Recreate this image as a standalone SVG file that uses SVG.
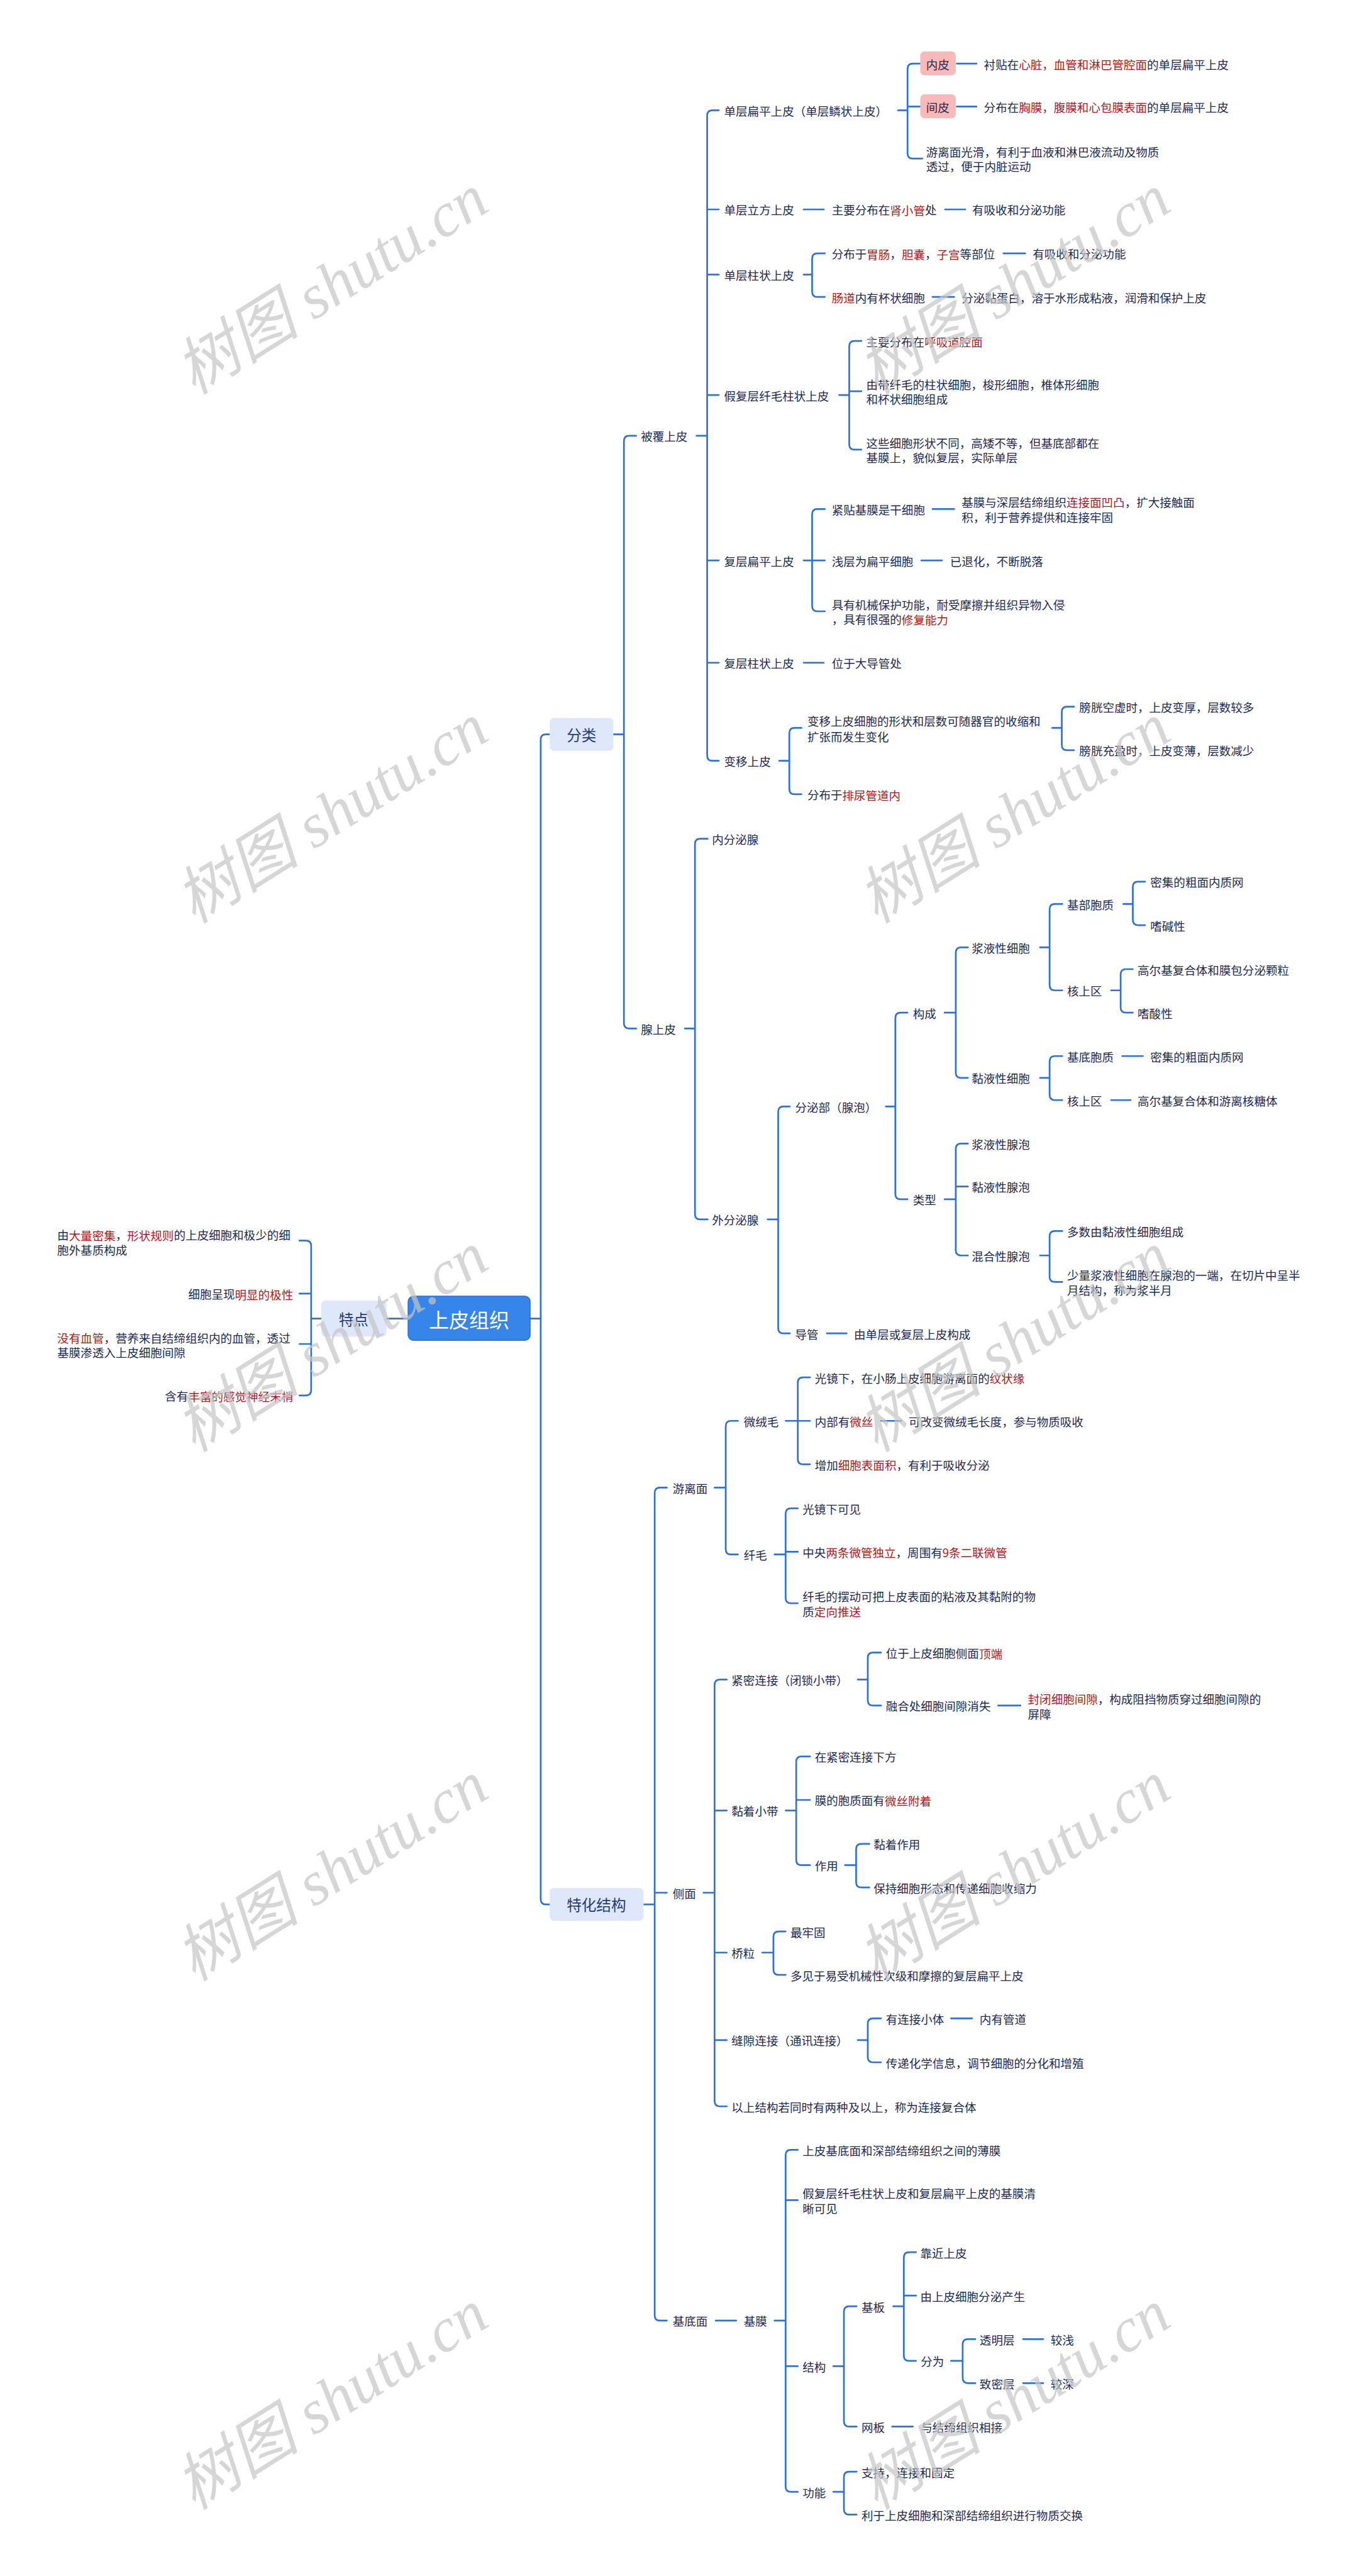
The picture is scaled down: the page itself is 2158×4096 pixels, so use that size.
<svg xmlns="http://www.w3.org/2000/svg" width="2158" height="4096" viewBox="0 0 2158 4096">
<style>
text{font-family:"Noto Sans CJK SC","Noto Sans",sans-serif;dominant-baseline:central}
.t{font-size:22px;fill:#1d2951}
.r{fill:#a9191e}
.c{fill:none;stroke:#2f72d6;stroke-width:3.2;stroke-linecap:round;stroke-linejoin:round}
.bx{fill:#dfe8fb}
.pk{fill:#f8b9b9}
.lb{font-size:28px;fill:#1f3b7a;text-anchor:middle}
.wm{font-family:"Liberation Serif","Noto Sans CJK SC",serif;font-style:italic;font-size:118px;fill:#c4c4c4;fill-opacity:.7}
</style>
<rect width="2158" height="4096" fill="#ffffff"/>
<g transform="scale(0.843)">
<g id="connectors" class="c">
<path d="M1037 1385H1030Q1020 1385 1020 1395V3582Q1020 3592 1030 3592H1037M1000 2487H1020M770 2487H729M606 2487H587"/>
<path d="M565 2340H577Q587 2340 587 2350V2622Q587 2632 577 2632H565M587 2440H565M587 2535H565"/>
<path d="M1157 1385H1177M1200 822H1187Q1177 822 1177 832V1930Q1177 1940 1187 1940H1200"/>
<path d="M1314 822H1334M1356 208H1344Q1334 208 1334 218V1425Q1334 1435 1344 1435H1356M1334 395H1356M1334 518H1356M1334 745H1356M1334 1057H1356M1334 1250H1356"/>
<path d="M1694 208H1712M1736 120H1722Q1712 120 1712 130V289Q1712 299 1722 299H1740M1712 201H1736M1805 120H1842M1805 201H1842"/>
<path d="M1516 395H1554M1783 395H1821"/>
<path d="M1516 518H1532M1556 478H1542Q1532 478 1532 488V550Q1532 560 1542 560H1556M1893 478H1934M1759 560H1800"/>
<path d="M1583 745H1602M1625 643H1612Q1602 643 1602 653V838Q1602 848 1612 848H1625M1602 738H1625"/>
<path d="M1516 1057H1532M1556 960H1542Q1532 960 1532 970V1143Q1532 1153 1542 1153H1556M1532 1057H1556M1759 960H1800M1738 1057H1777"/>
<path d="M1516 1250H1554"/>
<path d="M1470 1435H1489M1512 1373H1499Q1489 1373 1489 1383V1488Q1489 1498 1499 1498H1512M1985 1373H2003M2026 1333H2013Q2003 1333 2003 1343V1405Q2003 1415 2013 1415H2026"/>
<path d="M1292 1940H1311M1335 1582H1321Q1311 1582 1311 1592V2290Q1311 2300 1321 2300H1335"/>
<path d="M1448 2300H1468M1490 2087H1478Q1468 2087 1468 2097V2505Q1468 2515 1478 2515H1490"/>
<path d="M1671 2087H1689M1712 1910H1699Q1689 1910 1689 1920V2252Q1689 2262 1699 2262H1712"/>
<path d="M1782 1910H1803M1826 1787H1813Q1803 1787 1803 1797V2023Q1803 2033 1813 2033H1826"/>
<path d="M1962 1787H1980M2004 1705H1990Q1980 1705 1980 1715V1858Q1980 1868 1990 1868H2004"/>
<path d="M2119 1705H2137M2160 1663H2147Q2137 1663 2137 1673V1735Q2137 1745 2147 1745H2160"/>
<path d="M2096 1868H2114M2137 1828H2124Q2114 1828 2114 1838V1900Q2114 1910 2124 1910H2137"/>
<path d="M1962 2033H1980M2004 1992H1990Q1980 1992 1980 2002V2065Q1980 2075 1990 2075H2004M2117 1992H2156M2096 2075H2133"/>
<path d="M1782 2262H1803M1826 2157H1813Q1803 2157 1803 2167V2358Q1803 2368 1813 2368H1826M1803 2238H1826"/>
<path d="M1962 2368H1980M2004 2322H1990Q1980 2322 1980 2332V2408Q1980 2418 1990 2418H2004"/>
<path d="M1560 2515H1597"/>
<path d="M1214 3592H1235M1258 2806H1245Q1235 2806 1235 2816V4367Q1235 4377 1245 4377H1258M1235 3570H1258"/>
<path d="M1348 2806H1369M1392 2680H1379Q1369 2680 1369 2690V2922Q1369 2932 1379 2932H1392"/>
<path d="M1482 2680H1505M1528 2598H1515Q1505 2598 1505 2608V2752Q1505 2762 1515 2762H1528M1505 2680H1528M1662 2680H1700"/>
<path d="M1461 2932H1482M1505 2845H1492Q1482 2845 1482 2855V3014Q1482 3024 1492 3024H1505M1482 2927H1505"/>
<path d="M1327 3570H1348M1371 3168H1358Q1348 3168 1348 3178V3963Q1348 3973 1358 3973H1371M1348 3415H1371M1348 3683H1371M1348 3848H1371"/>
<path d="M1618 3168H1637M1662 3117H1647Q1637 3117 1637 3127V3207Q1637 3217 1647 3217H1662M1883 3217H1925"/>
<path d="M1482 3415H1502M1528 3313H1512Q1502 3313 1502 3323V3508Q1502 3518 1512 3518H1528M1502 3395H1528"/>
<path d="M1594 3518H1615M1640 3478H1625Q1615 3478 1615 3488V3550Q1615 3560 1625 3560H1640"/>
<path d="M1438 3683H1459M1482 3643H1469Q1459 3643 1459 3653V3715Q1459 3725 1469 3725H1482"/>
<path d="M1618 3848H1637M1662 3807H1647Q1637 3807 1637 3817V3880Q1637 3890 1647 3890H1662M1794 3807H1834"/>
<path d="M1350 4377H1389M1461 4377H1482M1505 4055H1492Q1482 4055 1482 4065V4690Q1482 4700 1492 4700H1505M1482 4150H1505M1482 4463H1505"/>
<path d="M1572 4463H1592M1616 4350H1602Q1592 4350 1592 4360V4567Q1592 4577 1602 4577H1616"/>
<path d="M1685 4350H1705M1728 4248H1715Q1705 4248 1705 4258V4443Q1705 4453 1715 4453H1728M1705 4330H1728"/>
<path d="M1794 4453H1816M1840 4412H1826Q1816 4412 1816 4422V4485Q1816 4495 1826 4495H1840M1930 4412H1968M1930 4495H1968"/>
<path d="M1683 4577H1722"/>
<path d="M1572 4700H1592M1616 4662H1602Q1592 4662 1592 4672V4733Q1592 4743 1602 4743H1616"/>
</g>

<g id="root"><rect x="770" y="2445" width="230" height="83" rx="10" fill="#3585ea" stroke="#2a72d8" stroke-width="2"/><text x="885" y="2487" font-size="38" fill="#ffffff" text-anchor="middle">上皮组织</text></g>
<g id="n-tedian"><rect class="bx" x="606" y="2453" width="123" height="68" rx="8"/><text class="lb" x="667" y="2487">特点</text></g>
<g id="n-fenlei"><rect class="bx" x="1037" y="1354" width="120" height="62" rx="8"/><text class="lb" x="1097" y="1385">分类</text></g>
<g id="n-tehua"><rect class="bx" x="1037" y="3561" width="177" height="62" rx="8"/><text class="lb" x="1125" y="3592">特化结构</text></g>

<g id="n-td1"><text class="t" x="108" y="2328">由<tspan class="r">大量密集</tspan>，<tspan class="r">形状规则</tspan>的上皮细胞和极少的细</text><text class="t" x="108" y="2357">胞外基质构成</text></g>
<g id="n-td2"><text class="t" x="553" y="2440" text-anchor="end">细胞呈现<tspan class="r">明显的极性</tspan></text></g>
<g id="n-td3"><text class="t" x="108" y="2522"><tspan class="r">没有血管</tspan>，营养来自结缔组织内的血管，透过</text><text class="t" x="108" y="2550">基膜渗透入上皮细胞间隙</text></g>
<g id="n-td4"><text class="t" x="553" y="2632" text-anchor="end">含有<tspan class="r">丰富的感觉神经末梢</tspan></text></g>

<g id="n-bfsp"><text class="t" x="1209" y="822">被覆上皮</text></g>
<g id="n-dcbp"><text class="t" x="1366" y="208">单层扁平上皮（单层鳞状上皮）</text></g>
<g id="n-neipi"><rect class="pk" x="1736" y="97" width="67" height="45" rx="8"/><text class="t" x="1747" y="120">内皮</text></g>
<g id="n-neipi-d"><text class="t" x="1856" y="120">衬贴在<tspan class="r">心脏，血管和淋巴管腔面</tspan>的单层扁平上皮</text></g>
<g id="n-jianpi"><rect class="pk" x="1736" y="178" width="67" height="45" rx="8"/><text class="t" x="1747" y="201">间皮</text></g>
<g id="n-jianpi-d"><text class="t" x="1856" y="201">分布在<tspan class="r">胸膜，腹膜和心包膜表面</tspan>的单层扁平上皮</text></g>
<g id="n-dcbp3"><text class="t" x="1747" y="285">游离面光滑，有利于血液和淋巴液流动及物质</text><text class="t" x="1747" y="313">透过，便于内脏运动</text></g>
<g id="n-dclf"><text class="t" x="1366" y="395">单层立方上皮</text></g>
<g id="n-dclf1"><text class="t" x="1569" y="395">主要分布在<tspan class="r">肾小管</tspan>处</text></g>
<g id="n-dclf2"><text class="t" x="1834" y="395">有吸收和分泌功能</text></g>
<g id="n-dczz"><text class="t" x="1366" y="518">单层柱状上皮</text></g>
<g id="n-dczz1"><text class="t" x="1569" y="478">分布于<tspan class="r">胃肠</tspan>，<tspan class="r">胆囊</tspan>，<tspan class="r">子宫</tspan>等部位</text></g>
<g id="n-dczz1a"><text class="t" x="1948" y="478">有吸收和分泌功能</text></g>
<g id="n-dczz2"><text class="t" x="1569" y="560"><tspan class="r">肠道</tspan>内有杯状细胞</text></g>
<g id="n-dczz2a"><text class="t" x="1814" y="560">分泌黏蛋白，溶于水形成粘液，润滑和保护上皮</text></g>
<g id="n-jfc"><text class="t" x="1366" y="745">假复层纤毛柱状上皮</text></g>
<g id="n-jfc1"><text class="t" x="1634" y="643">主要分布在<tspan class="r">呼吸道腔面</tspan></text></g>
<g id="n-jfc2"><text class="t" x="1634" y="724">由带纤毛的柱状细胞，梭形细胞，椎体形细胞</text><text class="t" x="1634" y="752">和杯状细胞组成</text></g>
<g id="n-jfc3"><text class="t" x="1634" y="834">这些细胞形状不同，高矮不等，但基底部都在</text><text class="t" x="1634" y="862">基膜上，貌似复层，实际单层</text></g>
<g id="n-fcbp"><text class="t" x="1366" y="1057">复层扁平上皮</text></g>
<g id="n-fcbp1"><text class="t" x="1569" y="960">紧贴基膜是干细胞</text></g>
<g id="n-fcbp1a"><text class="t" x="1814" y="946">基膜与深层结缔组织<tspan class="r">连接面凹凸</tspan>，扩大接触面</text><text class="t" x="1814" y="974">积，利于营养提供和连接牢固</text></g>
<g id="n-fcbp2"><text class="t" x="1569" y="1057">浅层为扁平细胞</text></g>
<g id="n-fcbp2a"><text class="t" x="1792" y="1057">已退化，不断脱落</text></g>
<g id="n-fcbp3"><text class="t" x="1569" y="1139">具有机械保护功能，耐受摩擦并组织异物入侵</text><text class="t" x="1569" y="1167">，具有很强的<tspan class="r">修复能力</tspan></text></g>
<g id="n-fczz"><text class="t" x="1366" y="1250">复层柱状上皮</text></g>
<g id="n-fczz1"><text class="t" x="1569" y="1250">位于大导管处</text></g>
<g id="n-byp"><text class="t" x="1366" y="1435">变移上皮</text></g>
<g id="n-byp1"><text class="t" x="1523" y="1359">变移上皮细胞的形状和层数可随器官的收缩和</text><text class="t" x="1523" y="1388">扩张而发生变化</text></g>
<g id="n-byp1a"><text class="t" x="2036" y="1333">膀胱空虚时，上皮变厚，层数较多</text></g>
<g id="n-byp1b"><text class="t" x="2036" y="1415">膀胱充盈时，上皮变薄，层数减少</text></g>
<g id="n-byp2"><text class="t" x="1523" y="1498">分布于<tspan class="r">排尿管道内</tspan></text></g>

<g id="n-xsp"><text class="t" x="1209" y="1940">腺上皮</text></g>
<g id="n-nfmx"><text class="t" x="1343" y="1582">内分泌腺</text></g>
<g id="n-wfmx"><text class="t" x="1343" y="2300">外分泌腺</text></g>
<g id="n-fmb"><text class="t" x="1500" y="2087">分泌部（腺泡）</text></g>
<g id="n-gc"><text class="t" x="1722" y="1910">构成</text></g>
<g id="n-jyx"><text class="t" x="1833" y="1787">浆液性细胞</text></g>
<g id="n-jbbz"><text class="t" x="2013" y="1705">基部胞质</text></g>
<g id="n-jbbz1"><text class="t" x="2170" y="1663">密集的粗面内质网</text></g>
<g id="n-jbbz2"><text class="t" x="2170" y="1745">嗜碱性</text></g>
<g id="n-hsq1"><text class="t" x="2013" y="1868">核上区</text></g>
<g id="n-hsq1a"><text class="t" x="2146" y="1828">高尔基复合体和膜包分泌颗粒</text></g>
<g id="n-hsq1b"><text class="t" x="2146" y="1910">嗜酸性</text></g>
<g id="n-nyx"><text class="t" x="1833" y="2033">黏液性细胞</text></g>
<g id="n-jdbz"><text class="t" x="2013" y="1992">基底胞质</text></g>
<g id="n-jdbz1"><text class="t" x="2170" y="1992">密集的粗面内质网</text></g>
<g id="n-hsq2"><text class="t" x="2013" y="2075">核上区</text></g>
<g id="n-hsq2a"><text class="t" x="2146" y="2075">高尔基复合体和游离核糖体</text></g>
<g id="n-lx"><text class="t" x="1722" y="2262">类型</text></g>
<g id="n-jyxp"><text class="t" x="1833" y="2157">浆液性腺泡</text></g>
<g id="n-nyxp"><text class="t" x="1833" y="2238">黏液性腺泡</text></g>
<g id="n-hhxp"><text class="t" x="1833" y="2368">混合性腺泡</text></g>
<g id="n-hhxp1"><text class="t" x="2013" y="2322">多数由黏液性细胞组成</text></g>
<g id="n-hhxp2"><text class="t" x="2013" y="2404">少量浆液性细胞在腺泡的一端，在切片中呈半</text><text class="t" x="2013" y="2432">月结构，称为浆半月</text></g>
<g id="n-dg"><text class="t" x="1500" y="2515">导管</text></g>
<g id="n-dg1"><text class="t" x="1611" y="2515">由单层或复层上皮构成</text></g>

<g id="n-ylm"><text class="t" x="1269" y="2806">游离面</text></g>
<g id="n-wrm"><text class="t" x="1403" y="2680">微绒毛</text></g>
<g id="n-wrm1"><text class="t" x="1537" y="2598">光镜下，在小肠上皮细胞游离面的<tspan class="r">纹状缘</tspan></text></g>
<g id="n-wrm2"><text class="t" x="1537" y="2680">内部有<tspan class="r">微丝</tspan></text></g>
<g id="n-wrm2a"><text class="t" x="1714" y="2680">可改变微绒毛长度，参与物质吸收</text></g>
<g id="n-wrm3"><text class="t" x="1537" y="2762">增加<tspan class="r">细胞表面积</tspan>，有利于吸收分泌</text></g>
<g id="n-xm"><text class="t" x="1403" y="2932">纤毛</text></g>
<g id="n-xm1"><text class="t" x="1514" y="2845">光镜下可见</text></g>
<g id="n-xm2"><text class="t" x="1514" y="2927">中央<tspan class="r">两条微管独立</tspan>，周围有<tspan class="r">9条二联微管</tspan></text></g>
<g id="n-xm3"><text class="t" x="1514" y="3010">纤毛的摆动可把上皮表面的粘液及其黏附的物</text><text class="t" x="1514" y="3038">质<tspan class="r">定向推送</tspan></text></g>
<g id="n-cm"><text class="t" x="1269" y="3570">侧面</text></g>
<g id="n-jmlj"><text class="t" x="1380" y="3168">紧密连接（闭锁小带）</text></g>
<g id="n-jmlj1"><text class="t" x="1671" y="3117">位于上皮细胞侧面<tspan class="r">顶端</tspan></text></g>
<g id="n-jmlj2"><text class="t" x="1671" y="3217">融合处细胞间隙消失</text></g>
<g id="n-jmlj2a"><text class="t" x="1939" y="3203"><tspan class="r">封闭细胞间隙</tspan>，构成阻挡物质穿过细胞间隙的</text><text class="t" x="1939" y="3232">屏障</text></g>
<g id="n-nzxd"><text class="t" x="1380" y="3415">黏着小带</text></g>
<g id="n-nzxd1"><text class="t" x="1537" y="3313">在紧密连接下方</text></g>
<g id="n-nzxd2"><text class="t" x="1537" y="3395">膜的胞质面有<tspan class="r">微丝附着</tspan></text></g>
<g id="n-zy"><text class="t" x="1537" y="3518">作用</text></g>
<g id="n-zy1"><text class="t" x="1648" y="3478">黏着作用</text></g>
<g id="n-zy2"><text class="t" x="1648" y="3560">保持细胞形态和传递细胞收缩力</text></g>
<g id="n-ql"><text class="t" x="1380" y="3683">桥粒</text></g>
<g id="n-ql1"><text class="t" x="1491" y="3643">最牢固</text></g>
<g id="n-ql2"><text class="t" x="1491" y="3725">多见于易受机械性次级和摩擦的复层扁平上皮</text></g>
<g id="n-fxlj"><text class="t" x="1380" y="3848">缝隙连接（通讯连接）</text></g>
<g id="n-fxlj1"><text class="t" x="1671" y="3807">有连接小体</text></g>
<g id="n-fxlj1a"><text class="t" x="1848" y="3807">内有管道</text></g>
<g id="n-fxlj2"><text class="t" x="1671" y="3890">传递化学信息，调节细胞的分化和增殖</text></g>
<g id="n-ljfht"><text class="t" x="1380" y="3973">以上结构若同时有两种及以上，称为连接复合体</text></g>
<g id="n-jdm"><text class="t" x="1269" y="4377">基底面</text></g>
<g id="n-jm"><text class="t" x="1403" y="4377">基膜</text></g>
<g id="n-jm1"><text class="t" x="1514" y="4055">上皮基底面和深部结缔组织之间的薄膜</text></g>
<g id="n-jm2"><text class="t" x="1514" y="4136">假复层纤毛柱状上皮和复层扁平上皮的基膜清</text><text class="t" x="1514" y="4164">晰可见</text></g>
<g id="n-jg"><text class="t" x="1514" y="4463">结构</text></g>
<g id="n-jb"><text class="t" x="1625" y="4350">基板</text></g>
<g id="n-jb1"><text class="t" x="1736" y="4248">靠近上皮</text></g>
<g id="n-jb2"><text class="t" x="1736" y="4330">由上皮细胞分泌产生</text></g>
<g id="n-fw"><text class="t" x="1737" y="4453">分为</text></g>
<g id="n-tmc"><text class="t" x="1848" y="4412">透明层</text></g>
<g id="n-tmc1"><text class="t" x="1982" y="4412">较浅</text></g>
<g id="n-zmc"><text class="t" x="1848" y="4495">致密层</text></g>
<g id="n-zmc1"><text class="t" x="1982" y="4495">较深</text></g>
<g id="n-wb"><text class="t" x="1625" y="4577">网板</text></g>
<g id="n-wb1"><text class="t" x="1737" y="4577">与结缔组织相接</text></g>
<g id="n-gn"><text class="t" x="1514" y="4700">功能</text></g>
<g id="n-gn1"><text class="t" x="1625" y="4662">支持，连接和固定</text></g>
<g id="n-gn2"><text class="t" x="1625" y="4743">利于上皮细胞和深部结缔组织进行物质交换</text></g>

<g id="watermarks">
<text class="wm" transform="translate(345,712) rotate(-32)">树图 shutu.cn</text>
<text class="wm" transform="translate(1632,712) rotate(-32)">树图 shutu.cn</text>
<text class="wm" transform="translate(345,1710) rotate(-32)">树图 shutu.cn</text>
<text class="wm" transform="translate(1632,1710) rotate(-32)">树图 shutu.cn</text>
<text class="wm" transform="translate(345,2707) rotate(-32)">树图 shutu.cn</text>
<text class="wm" transform="translate(1632,2707) rotate(-32)">树图 shutu.cn</text>
<text class="wm" transform="translate(345,3705) rotate(-32)">树图 shutu.cn</text>
<text class="wm" transform="translate(1632,3705) rotate(-32)">树图 shutu.cn</text>
<text class="wm" transform="translate(345,4702) rotate(-32)">树图 shutu.cn</text>
<text class="wm" transform="translate(1632,4702) rotate(-32)">树图 shutu.cn</text>
</g>
</g>
</svg>
